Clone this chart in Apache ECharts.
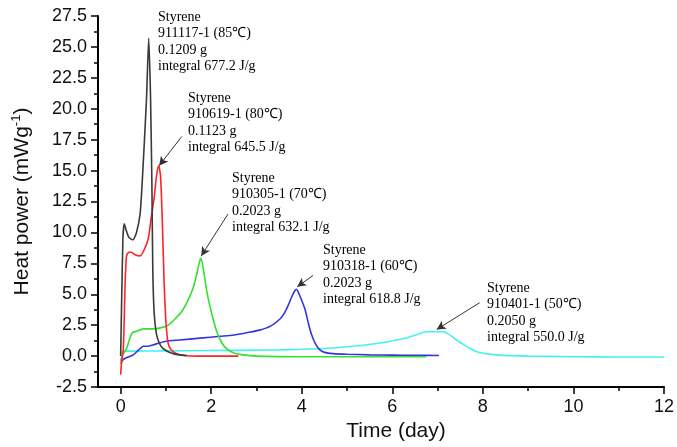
<!DOCTYPE html>
<html><head><meta charset="utf-8">
<script src="https://cdn.jsdelivr.net/npm/echarts@6/dist/echarts.min.js"></script>
<style>html,body{margin:0;padding:0;background:#fff}#c{width:677px;height:447px}</style>
</head><body><div id="c"></div>
<script>
// ---- data ----
const xMajorTicks = [0, 2, 4, 6, 8, 10, 12];
const xMinorTicks = [1, 3, 5, 7, 9, 11];

const s85X = [0, 0.02, 0.05, 0.08, 0.12, 0.18, 0.27, 0.35, 0.43, 0.48, 0.57, 0.62, 0.66, 0.69, 0.71, 0.74, 0.79, 0.86, 0.94, 1.05, 1.16, 1.3, 1.46];
const s85Y = [0, 4, 9.5, 10.7, 10.2, 9.6, 9.4, 10.0, 11.5, 14.3, 20.7, 25.7, 21, 14, 7, 3.5, 1.8, 1.0, 0.6, 0.35, 0.2, 0.1, 0.05];

const s80X = [0, 0.02, 0.06, 0.1, 0.13, 0.18, 0.24, 0.32, 0.43, 0.52, 0.61, 0.68, 0.74, 0.79, 0.84, 0.88, 0.92, 0.96, 1.0, 1.05, 1.12, 1.24, 1.4, 1.7, 2.1, 2.6];
const s80Y = [-1.5, -0.5, 0.6, 6.0, 8.1, 8.4, 8.4, 8.2, 8.1, 8.6, 9.5, 11.3, 12.8, 14.5, 15.4, 14.6, 11.0, 6.0, 2.8, 1.0, 0.5, 0.2, 0.05, 0, 0, 0];

const s70X = [0, 0.03, 0.13, 0.2, 0.26, 0.35, 0.5, 0.7, 0.9, 1.05, 1.2, 1.35, 1.5, 1.6, 1.68, 1.74, 1.77, 1.82, 1.9, 2.0, 2.12, 2.23, 2.34, 2.5, 2.7, 3.0, 4, 5, 6, 6.75];
const s70Y = [-0.4, 0, 0.6, 1.4, 1.9, 2.0, 2.2, 2.2, 2.3, 2.5, 3.0, 3.6, 4.6, 5.5, 6.6, 7.6, 7.9, 7.2, 5.3, 3.6, 2.0, 1.1, 0.6, 0.25, 0.1, 0.0, -0.05, -0.05, -0.05, -0.05];

const s60X = [0, 0.05, 0.15, 0.28, 0.4, 0.5, 0.6, 0.71, 0.85, 1.0, 1.3, 1.75, 2.2, 2.5, 2.8, 3.07, 3.3, 3.52, 3.62, 3.7, 3.78, 3.85, 3.88, 3.92, 4.0, 4.07, 4.15, 4.22, 4.3, 4.4, 4.5, 4.7, 5.0, 5.5, 6.0, 6.5, 7.03];
const s60Y = [-0.6, -0.3, -0.1, 0.1, 0.5, 0.8, 0.8, 0.9, 1.05, 1.2, 1.3, 1.45, 1.6, 1.7, 1.9, 2.1, 2.4, 3.0, 3.5, 4.1, 4.8, 5.3, 5.4, 5.2, 4.5, 3.8, 2.6, 1.7, 1.0, 0.5, 0.3, 0.2, 0.15, 0.1, 0.08, 0.06, 0.05];

const s50X = [0, 0.1, 0.3, 1, 2, 3, 3.5, 4, 4.6, 5, 5.4, 5.8, 6.1, 6.35, 6.55, 6.75, 7.12, 7.25, 7.42, 7.57, 7.71, 7.85, 8.0, 8.3, 8.6, 9, 10, 11, 12];
const s50Y = [0.3, 0.4, 0.4, 0.42, 0.45, 0.48, 0.5, 0.55, 0.63, 0.75, 0.9, 1.1, 1.3, 1.5, 1.75, 1.97, 1.97, 1.75, 1.3, 0.95, 0.63, 0.38, 0.23, 0.1, 0.04, 0.0, -0.05, -0.07, -0.07];

const noteTexts = [
  ['Styrene', '911117-1 (85℃)', '0.1209 g', 'integral 677.2 J/g'],
  ['Styrene', '910619-1 (80℃)', '0.1123 g', 'integral 645.5 J/g'],
  ['Styrene', '910305-1 (70℃)', '0.2023 g', 'integral 632.1 J/g'],
  ['Styrene', '910318-1 (60℃)', '0.2023 g', 'integral 618.8 J/g'],
  ['Styrene', '910401-1 (50℃)', '0.2050 g', 'integral 550.0 J/g']
];
// arrow [from, to] in data coordinates (null = no arrow)
const noteArrows = [
  null,
  [[1.35, 17.75], [0.85, 15.4]],
  [[2.37, 11.48], [1.78, 8.1]],
  [[4.25, 6.52], [3.9, 5.6]],
  [[7.93, 4.32], [6.98, 2.15]]
];
const notePos = [[158, 9], [188, 90], [232, 170], [323, 242], [487, 280]];

const colors = ['#3a3a3a', '#ff2222', '#33e033', '#3333e6', '#44f2f2'];

// ---- chart ----
const zip = (a, b) => a.map((v, i) => [v, b[i]]);
const seriesData = [zip(s85X, s85Y), zip(s80X, s80Y), zip(s70X, s70Y), zip(s60X, s60Y), zip(s50X, s50Y)];

const chart = echarts.init(document.getElementById('c'), null, {renderer: 'canvas'});
const axisFont = 'Liberation Sans, Arial, sans-serif';

const series = seriesData.map((d, i) => {
  const s = {
    type: 'line', data: d, xAxisIndex: 0, yAxisIndex: 0,
    showSymbol: false, symbol: 'none', smooth: 0.2,
    lineStyle: {color: colors[i], width: 1.6},
    itemStyle: {color: colors[i]},
    z: 10 - i
  };
  if (noteArrows[i]) {
    s.markLine = {
      silent: true, symbol: ['none', 'arrow'], symbolSize: [7, 9],
      label: {show: false},
      lineStyle: {color: '#333', width: 1, type: 'solid'},
      data: [[{coord: noteArrows[i][0]}, {coord: noteArrows[i][1]}]]
    };
  }
  return s;
});

const graphics = noteTexts.map((lines, i) => ({
  type: 'text', left: notePos[i][0], top: notePos[i][1],
  style: {
    text: lines.join('\n'), fill: '#000',
    font: '14px "Liberation Serif", "Times New Roman", serif',
    lineHeight: 16.5
  }
}));

chart.setOption({
  animation: false,
  backgroundColor: '#fff',
  grid: {left: 98, right: 13, top: 16, bottom: 58},
  xAxis: [{
    type: 'value', min: -0.5, max: 12, position: 'bottom',
    name: 'Time (day)', nameLocation: 'middle', nameGap: 34,
    nameTextStyle: {fontFamily: axisFont, fontSize: 21, color: '#111', padding: [0, 0, 0, 30]},
    axisLine: {onZero: false, lineStyle: {color: '#000', width: 2}},
    axisTick: {customValues: xMajorTicks, length: 7, lineStyle: {color: '#000', width: 1.5}},
    axisLabel: {customValues: xMajorTicks, margin: 11, fontFamily: axisFont, fontSize: 18, color: '#111'},
    splitLine: {show: false}
  }, {
    type: 'value', min: -0.5, max: 12, position: 'bottom',
    axisLine: {show: false, onZero: false},
    axisTick: {customValues: xMinorTicks, length: 4, lineStyle: {color: '#000', width: 1.5}},
    axisLabel: {show: false},
    splitLine: {show: false}
  }],
  yAxis: {
    type: 'value', min: -2.5, max: 27.5, interval: 2.5,
    name: '{t|Heat power (mWg}{s|-1}{t|)}', nameLocation: 'middle', nameGap: 64, nameRotate: 90,
    nameTextStyle: {
      rich: {
        t: {fontFamily: axisFont, fontSize: 21, color: '#111'},
        s: {fontFamily: axisFont, fontSize: 13, color: '#111', padding: [0, 0, 11, 0]}
      }
    },
    axisLine: {onZero: false, lineStyle: {color: '#000', width: 2}},
    axisTick: {length: 7, lineStyle: {color: '#000', width: 1.5}},
    minorTick: {show: true, splitNumber: 2, length: 4, lineStyle: {color: '#000', width: 1.5}},
    axisLabel: {margin: 11, fontFamily: axisFont, fontSize: 18, color: '#111', formatter: v => v.toFixed(1)},
    splitLine: {show: false}, minorSplitLine: {show: false}
  },
  series: series,
  graphic: graphics
});
</script>
</body></html>
